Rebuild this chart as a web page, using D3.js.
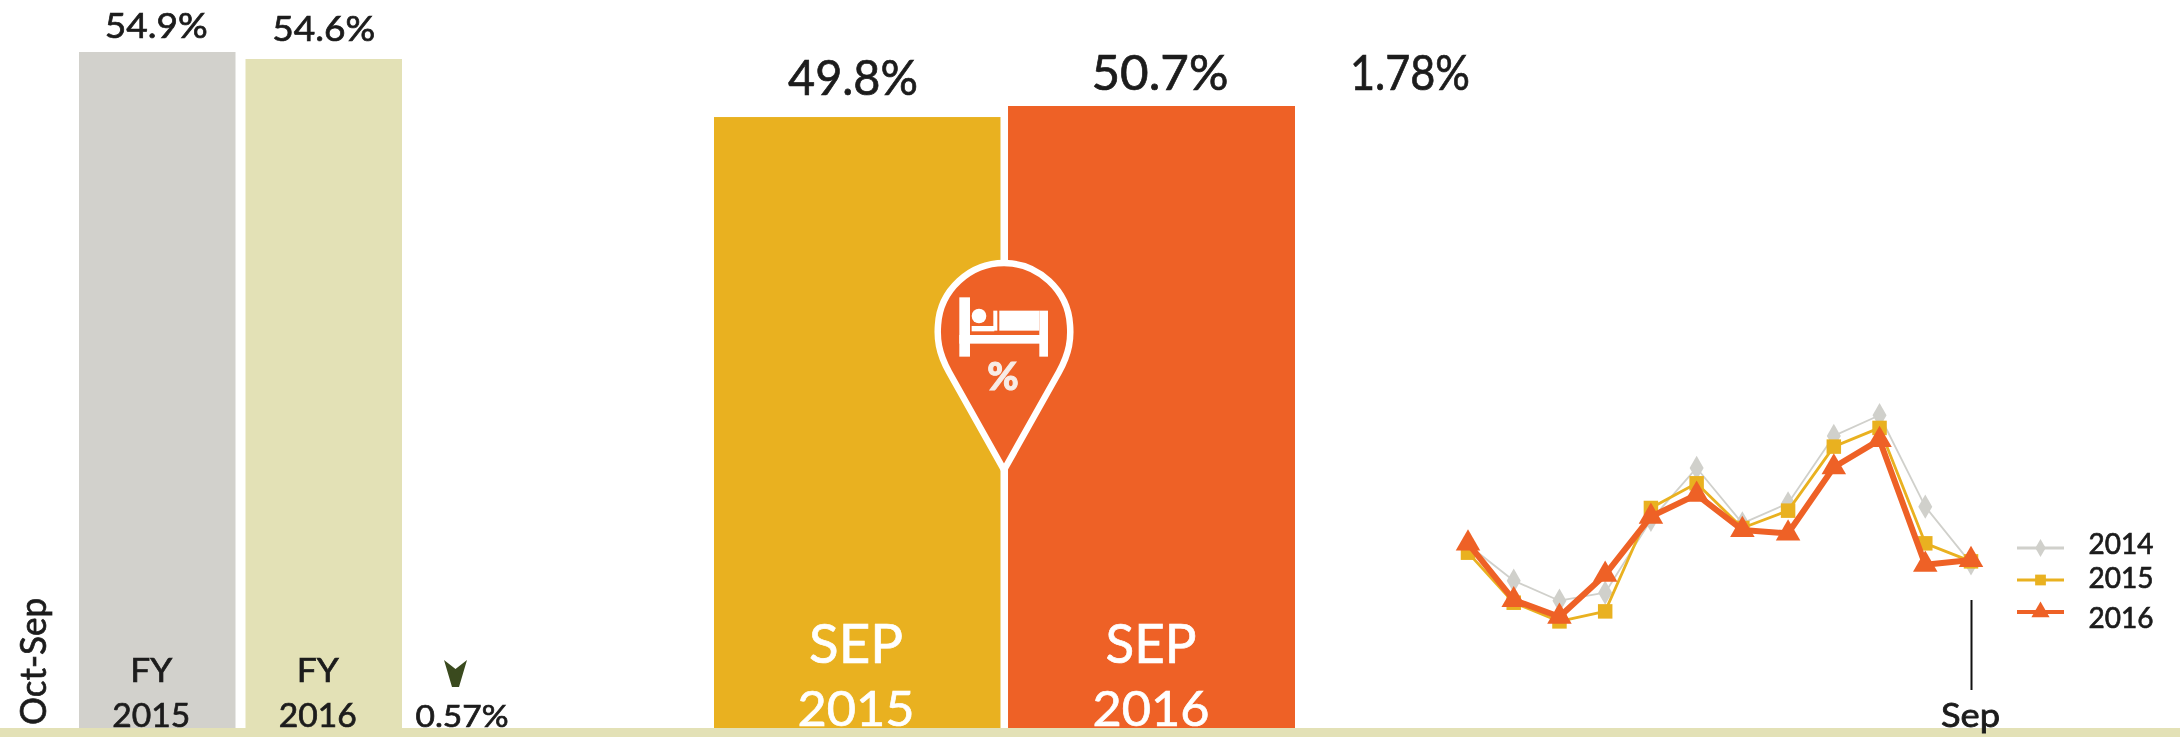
<!DOCTYPE html>
<html><head><meta charset="utf-8">
<script src="https://cdn.jsdelivr.net/npm/d3@7/dist/d3.min.js"></script>
<style>html,body{margin:0;padding:0;background:#fff;overflow:hidden}svg{display:block;filter:blur(.6px)}text{font-family:Lato,"Open Sans",sans-serif}</style>
</head><body><div id="c"></div>
<script>
// Data
const fyCategories = ["FY 2015", "FY 2016"];
const fyValues = [54.9, 54.6];
const fyChange = "0.57%";
const fyPeriod = "Oct-Sep";
const sepCategories = ["SEP 2015", "SEP 2016"];
const sepValues = [49.8, 50.7];
const sepChange = "1.78%";
const months = ["Oct","Nov","Dec","Jan","Feb","Mar","Apr","May","Jun","Jul","Aug","Sep"];
const seriesNames = ["2014","2015","2016"];
const values2014 = [53.0,47.6,44.6,45.8,56.7,64.5,56.2,59.2,69.3,72.4,58.7,50.2];
const values2015 = [51.8,44.3,41.5,43.0,58.5,62.2,55.5,58.1,67.7,70.5,53.2,50.5];
const values2016 = [53.2,44.7,42.2,48.5,57.2,60.5,55.2,54.7,64.6,68.7,50.0,50.7];

const W = 2180, H = 737, base = 728;
const GRAY = "#d2d1cc", KHAKI = "#e3e1b6", YEL = "#e9b120", ORG = "#ee6126", INK = "#1c1c1c";
const svg = d3.select("#c").append("svg").attr("width", W).attr("height", H);
const pct = v => d3.format(".1f")(v) + "%";

function txt(g, x, y, s, size, len, fill) {
  const f = fill || INK;
  return g.append("text").attr("x", x).attr("y", y).attr("text-anchor", "middle")
    .attr("font-size", size).attr("fill", f).attr("stroke", f).attr("stroke-width", 0.7)
    .attr("textLength", len).attr("lengthAdjust", "spacingAndGlyphs").text(s);
}

// Ground band
svg.append("rect").attr("x", 0).attr("y", base).attr("width", W).attr("height", H - base).attr("fill", KHAKI);

// FY panel
const yFy = d3.scaleLinear().domain([25.9, 54.9]).range([base, 52]);
const xFy = d3.scaleBand().domain(fyCategories).range([79, 402]).paddingInner(0.06);
const fyColors = [GRAY, KHAKI];
const gFy = svg.append("g");
gFy.selectAll("rect").data(fyValues).join("rect")
  .attr("x", (d, i) => xFy(fyCategories[i])).attr("width", xFy.bandwidth())
  .attr("y", d => yFy(d)).attr("height", d => base - yFy(d))
  .attr("fill", (d, i) => fyColors[i]);
fyValues.forEach((v, i) => {
  txt(gFy, xFy(fyCategories[i]) + xFy.bandwidth() / 2 - (i ? 0 : 1), i ? 41 : 38, pct(v), 34, 103);
  const [a, b] = fyCategories[i].split(" ");
  const c = xFy(fyCategories[i]) + xFy.bandwidth() / 2 - 6;
  txt(gFy, c, 682, a, 33, 42);
  txt(gFy, c, 727, b, 33, 78);
});
gFy.append("text").attr("transform", "translate(46,725) rotate(-90)")
  .attr("font-size", 36).attr("fill", INK).attr("stroke", INK).attr("stroke-width", 0.7).attr("textLength", 127)
  .attr("lengthAdjust", "spacingAndGlyphs").text(fyPeriod);
gFy.append("path").attr("fill", "#3a4a1e")
  .attr("d", "M444,660 L455.5,669 L467,660 L459,687 L452,687 Z");
txt(gFy, 462, 727, fyChange, 30, 93);

// SEP panel
const ySep = d3.scaleLinear().domain([0, 50.7]).range([base, 106]);
const xSep = d3.scaleBand().domain(sepCategories).range([714, 1295]).paddingInner(0.024);
const sepColors = [YEL, ORG];
const gSep = svg.append("g");
gSep.selectAll("rect").data(sepValues).join("rect")
  .attr("x", (d, i) => xSep(sepCategories[i])).attr("width", xSep.bandwidth())
  .attr("y", d => ySep(d)).attr("height", d => base - ySep(d))
  .attr("fill", (d, i) => sepColors[i]);
const sepLabelX = [853, 1160], sepLabelY = [95, 90], sepTextX = [856, 1151];
sepValues.forEach((v, i) => {
  txt(gSep, sepLabelX[i], sepLabelY[i], pct(v), 48, i ? 137 : 130);
  const [a, b] = sepCategories[i].split(" ");
  txt(gSep, sepTextX[i], 663, a, 54, i ? 91 : 94, "#fff");
  txt(gSep, sepTextX[i], 726, b, 48, 117, "#fff");
});
txt(gSep, 1410, 90, sepChange, 48, 120);

// Pin
const gPin = svg.append("g");
gPin.append("line").attr("x1", 1004).attr("x2", 1004).attr("y1", 106).attr("y2", 728)
  .attr("stroke", "#fff").attr("stroke-width", 7);
gPin.append("path").attr("fill", ORG).attr("stroke", "#fff").attr("stroke-width", 6.5)
  .attr("stroke-linejoin", "round")
  .attr("d", "M1004,470 L949,372 C938,352 937,338 938,325 C940,290 970,263 1004,263 C1038,263 1068,290 1070,325 C1071,338 1070,352 1059,372 Z");
const bed = gPin.append("g").attr("transform", "translate(880,240) scale(0.3333)").attr("fill", "#fff");
[[238,172,32,178],[478,212,26,138],[238,285,265,26],[358,212,120,60],[340,212,12,60],[275,258,68,16]].forEach(r =>
  bed.append("rect").attr("x", r[0]).attr("y", r[1]).attr("width", r[2]).attr("height", r[3]));
bed.append("circle").attr("cx", 297).attr("cy", 228).attr("r", 22);
gPin.append("text").attr("x", 1003).attr("y", 390).attr("text-anchor", "middle")
  .attr("font-size", 38).attr("font-weight", 900).attr("fill", "#f7ece6").attr("stroke", "#f7ece6").attr("stroke-width", 1).text("%");

// Line panel
const xLine = d3.scalePoint().domain(months).range([1468, 1971]);
const yLine = d3.scaleLinear().domain([40, 75]).range([631.4, 397.9]);
const line = d3.line().x((d, i) => xLine(months[i])).y(d => yLine(d));
const seriesValues = [values2014, values2015, values2016];
const seriesColors = ["#d0d0cb", YEL, ORG];
const seriesWidths = [1.8, 2.8, 6];
const seriesSymbols = [d3.symbolDiamond, d3.symbolSquare, d3.symbolTriangle];
const seriesSizes = [170, 210, 260];
const gLine = svg.append("g");
seriesValues.forEach((vals, s) => {
  gLine.append("path").datum(vals).attr("d", line).attr("fill", "none")
    .attr("stroke", seriesColors[s]).attr("stroke-width", seriesWidths[s]).attr("stroke-linejoin", "round");
  gLine.selectAll(null).data(vals).join("path")
    .attr("d", d3.symbol(seriesSymbols[s], seriesSizes[s]))
    .attr("transform", (d, i) => `translate(${xLine(months[i])},${yLine(d)})`)
    .attr("fill", seriesColors[s]);
});

// Legend
const legendY = [548, 580, 612], legendText = [554, 588, 628];
seriesNames.forEach((n, s) => {
  gLine.append("line").attr("x1", 2017).attr("x2", 2064).attr("y1", legendY[s]).attr("y2", legendY[s])
    .attr("stroke", seriesColors[s]).attr("stroke-width", s === 2 ? 4 : 3);
  gLine.append("path").attr("d", d3.symbol(seriesSymbols[s], seriesSizes[s] * .55)())
    .attr("transform", `translate(2040.5,${legendY[s]})`).attr("fill", seriesColors[s]);
  txt(gLine, 2121, legendText[s], n, 29, 65);
});

// Sep tick axis
const axis = d3.axisBottom(xLine).tickValues(["Sep"]).tickSize(90).tickPadding(15);
const gAxis = svg.append("g").attr("transform", "translate(0,600)").call(axis);
gAxis.select(".domain").remove();
gAxis.selectAll("line").attr("stroke", "#111").attr("stroke-width", 2);
gAxis.selectAll("text").attr("font-size", 33).attr("fill", INK).attr("stroke", INK).attr("stroke-width", 0.8)
  .attr("font-family", "Lato").attr("dy", 0).attr("y", 127).attr("x", -1)
  .attr("textLength", 59).attr("lengthAdjust", "spacingAndGlyphs");
</script></body></html>
